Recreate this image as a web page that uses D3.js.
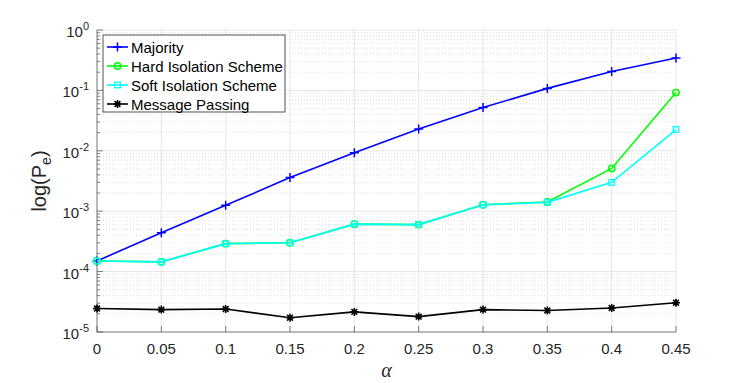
<!DOCTYPE html>
<html>
<head>
<meta charset="utf-8">
<script src="https://cdn.jsdelivr.net/npm/d3@7"></script>
<style>
  body { margin: 0; background: #fff; }
  svg { font-family: "Liberation Sans", Arial, sans-serif; }
</style>
</head>
<body>
<svg id="chart" width="747" height="383"></svg>
<script>
const alphas = [0, 0.05, 0.1, 0.15, 0.2, 0.25, 0.3, 0.35, 0.4, 0.45];
const majority = [1.5e-4, 4.4e-4, 1.25e-3, 3.6e-3, 9.3e-3, 2.3e-2, 5.2e-2, 0.108, 0.205, 0.345];
const hardIso = [1.5e-4, 1.45e-4, 2.9e-4, 3.0e-4, 6.1e-4, 6.0e-4, 1.28e-3, 1.42e-3, 5.1e-3, 0.092];
const softIso = [1.5e-4, 1.45e-4, 2.9e-4, 3.0e-4, 6.1e-4, 6.0e-4, 1.28e-3, 1.4e-3, 3.0e-3, 0.0225];
const msgPass = [2.45e-5, 2.35e-5, 2.4e-5, 1.72e-5, 2.15e-5, 1.8e-5, 2.35e-5, 2.27e-5, 2.5e-5, 3.05e-5];
const xTicks = [0, 0.05, 0.1, 0.15, 0.2, 0.25, 0.3, 0.35, 0.4, 0.45];
const yExps = [0, -1, -2, -3, -4, -5];

const series = [
  {name: 'Majority', vals: majority, color: '#0000ff', marker: 'plus'},
  {name: 'Hard Isolation Scheme', vals: hardIso, color: '#00ff00', marker: 'circle'},
  {name: 'Soft Isolation Scheme', vals: softIso, color: '#00ffff', marker: 'square'},
  {name: 'Message Passing', vals: msgPass, color: '#000000', marker: 'star'}
];

const m = {l: 97, r: 71, t: 30, b: 51};
const W = 747, H = 383;
const svg = d3.select('#chart');

const xS = d3.scaleLinear().domain([0, 0.45]).range([m.l, W - m.r]);
const yS = d3.scaleLog().domain([1e-5, 1]).range([H - m.b, m.t]);

const grid = svg.append('g');
// minor grid
const minorVals = [];
for (let e = -5; e < 0; e++) for (let k = 2; k <= 9; k++) minorVals.push(k * Math.pow(10, e));
grid.selectAll('.ymin').data(minorVals).join('line')
  .attr('x1', m.l).attr('x2', W - m.r)
  .attr('y1', d => yS(d)).attr('y2', d => yS(d))
  .attr('stroke', '#d4d4d4').attr('stroke-width', 0.8).attr('stroke-dasharray', '1,2');
grid.selectAll('.ymaj').data(yExps).join('line')
  .attr('x1', m.l).attr('x2', W - m.r)
  .attr('y1', d => yS(Math.pow(10, d))).attr('y2', d => yS(Math.pow(10, d)))
  .attr('stroke', '#e6e6e6').attr('stroke-width', 1);
grid.selectAll('.xmaj').data(xTicks).join('line')
  .attr('x1', d => xS(d)).attr('x2', d => xS(d))
  .attr('y1', m.t).attr('y2', H - m.b)
  .attr('stroke', '#e6e6e6').attr('stroke-width', 1);

// axes
const axes = svg.append('g');
axes.append('line').attr('x1', m.l).attr('x2', W - m.r).attr('y1', H - m.b).attr('y2', H - m.b)
  .attr('stroke', '#262626').attr('stroke-opacity', 0.55);
axes.append('line').attr('x1', m.l).attr('x2', m.l).attr('y1', m.t).attr('y2', H - m.b)
  .attr('stroke', '#262626').attr('stroke-opacity', 0.55);
axes.selectAll('.xt').data(xTicks).join('line')
  .attr('x1', d => xS(d)).attr('x2', d => xS(d))
  .attr('y1', H - m.b).attr('y2', H - m.b - 6)
  .attr('stroke', '#262626').attr('stroke-opacity', 0.55);
axes.selectAll('.ytm').data(minorVals).join('line')
  .attr('x1', m.l).attr('x2', m.l + 3)
  .attr('y1', d => yS(d)).attr('y2', d => yS(d))
  .attr('stroke', '#262626').attr('stroke-opacity', 0.55);
axes.selectAll('.ytM').data(yExps).join('line')
  .attr('x1', m.l).attr('x2', m.l + 6)
  .attr('y1', d => yS(Math.pow(10, d))).attr('y2', d => yS(Math.pow(10, d)))
  .attr('stroke', '#262626').attr('stroke-opacity', 0.55);

axes.selectAll('.xl').data(xTicks).join('text')
  .attr('x', d => xS(d)).attr('y', H - m.b + 22)
  .attr('text-anchor', 'middle').attr('font-size', 15).attr('fill', '#262626')
  .text(d => d3.format('')(d));

const yl = axes.selectAll('.yl').data(yExps).join('text')
  .attr('x', m.l - 8).attr('y', d => yS(Math.pow(10, d)) + 7)
  .attr('text-anchor', 'end').attr('font-size', 15).attr('fill', '#262626');
yl.append('tspan').text('10');
yl.append('tspan').attr('dy', -7).attr('font-size', 11).text(d => d);

// axis labels
const ylab = svg.append('text')
  .attr('transform', `translate(46,${(m.t + H - m.b) / 2}) rotate(-90)`)
  .attr('text-anchor', 'middle').attr('font-size', 20).attr('fill', '#262626');
ylab.append('tspan').text('log(P');
ylab.append('tspan').attr('dy', 5).attr('font-size', 14).text('e');
ylab.append('tspan').attr('dy', -5).text(')');

svg.append('text').attr('x', xS(0.225)).attr('y', 377)
  .attr('text-anchor', 'middle').attr('font-size', 20)
  .attr('font-family', '"Liberation Serif", "DejaVu Serif", serif')
  .attr('font-style', 'italic').attr('fill', '#262626').text('α');

// lines and markers
const line = d3.line().x((d, i) => xS(alphas[i])).y(d => yS(d));

function drawMarker(g, type, color, x, y) {
  if (type === 'plus') {
    g.append('path').attr('d', `M${x - 4.5},${y}H${x + 4.5}M${x},${y - 4.5}V${y + 4.5}`)
      .attr('stroke', color).attr('stroke-width', 1.5).attr('fill', 'none');
  } else if (type === 'circle') {
    g.append('circle').attr('cx', x).attr('cy', y).attr('r', 3.2)
      .attr('stroke', color).attr('stroke-width', 1.5).attr('fill', 'none');
  } else if (type === 'square') {
    g.append('rect').attr('x', x - 2.8).attr('y', y - 2.8).attr('width', 5.6).attr('height', 5.6)
      .attr('stroke', color).attr('stroke-width', 1.3).attr('fill', 'none');
  } else if (type === 'star') {
    const r = 4, d = r * 0.72;
    g.append('path')
      .attr('d', `M${x - r},${y}H${x + r}M${x},${y - r}V${y + r}M${x - d},${y - d}L${x + d},${y + d}M${x - d},${y + d}L${x + d},${y - d}`)
      .attr('stroke', color).attr('stroke-width', 1.6).attr('fill', 'none');
  }
}

const plotG = svg.append('g');
series.forEach(s => {
  const g = plotG.append('g');
  g.append('path').datum(s.vals).attr('d', line)
    .attr('fill', 'none').attr('stroke', s.color).attr('stroke-width', 1.6);
  s.vals.forEach((v, i) => drawMarker(g, s.marker, s.color, xS(alphas[i]), yS(v)));
});

// legend
const lg = svg.append('g').attr('transform', 'translate(103,35)');
lg.append('rect').attr('width', 182).attr('height', 77)
  .attr('fill', '#fff').attr('stroke', '#262626').attr('stroke-opacity', 0.8);
series.forEach((s, i) => {
  const y = 12 + i * 19;
  lg.append('line').attr('x1', 4).attr('x2', 25).attr('y1', y).attr('y2', y)
    .attr('stroke', s.color).attr('stroke-width', 1.6);
  drawMarker(lg, s.marker, s.color, 14.5, y);
  lg.append('text').attr('x', 28).attr('y', y + 5.5)
    .attr('font-size', 15).attr('fill', '#000').text(s.name);
});
</script>
</body>
</html>
